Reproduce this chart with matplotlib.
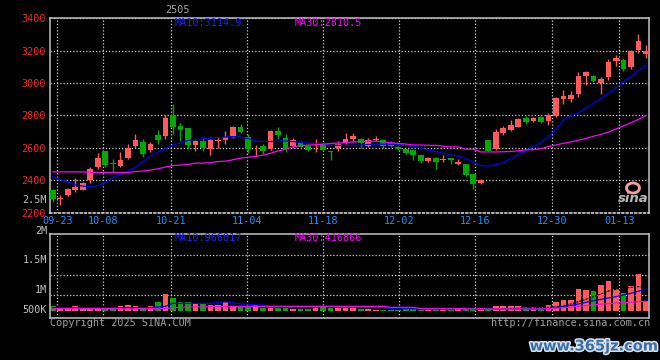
import numpy as np
import matplotlib
matplotlib.use('Agg')
import matplotlib.pyplot as plt
import matplotlib.patheffects as pe
from matplotlib.patches import Ellipse

# 日K数据
opens = np.array([2340, 2282, 2312, 2340, 2342, 2402, 2483, 2580, 2506, 2490,
                  2535, 2610, 2637, 2586, 2678, 2674, 2801, 2733, 2721, 2618,
                  2643, 2592, 2643, 2649, 2674, 2731, 2667, 2603, 2612, 2592,
                  2704, 2659, 2612, 2633, 2612, 2615, 2627, 2578, 2598, 2633,
                  2653, 2655, 2612, 2650, 2647, 2632, 2606, 2596, 2586, 2557,
                  2520, 2537, 2528, 2535, 2500, 2500, 2439, 2383, 2647, 2596,
                  2690, 2711, 2731, 2782, 2766, 2790, 2766, 2796, 2903, 2899,
                  2930, 3046, 3042, 3001, 3036, 3138, 3144, 3097, 3206, 3181])
highs = np.array([2347, 2310, 2352, 2412, 2388, 2483, 2566, 2582, 2530, 2572,
                  2623, 2688, 2653, 2635, 2709, 2803, 2868, 2751, 2725, 2648,
                  2667, 2652, 2670, 2704, 2735, 2745, 2684, 2617, 2627, 2708,
                  2729, 2688, 2664, 2640, 2625, 2653, 2635, 2582, 2643, 2690,
                  2690, 2660, 2660, 2674, 2655, 2643, 2612, 2600, 2590, 2562,
                  2545, 2545, 2555, 2537, 2531, 2503, 2441, 2408, 2650, 2719,
                  2735, 2772, 2786, 2797, 2790, 2797, 2813, 2912, 2960, 2954,
                  3066, 3072, 3050, 3036, 3148, 3175, 3155, 3205, 3304, 3236])
lows = np.array([2268, 2250, 2300, 2326, 2338, 2381, 2469, 2480, 2449, 2480,
                 2532, 2602, 2541, 2575, 2627, 2653, 2688, 2643, 2592, 2582,
                 2582, 2557, 2602, 2627, 2664, 2693, 2566, 2547, 2561, 2588,
                 2657, 2576, 2602, 2600, 2578, 2576, 2585, 2526, 2582, 2627,
                 2637, 2600, 2605, 2640, 2602, 2605, 2585, 2561, 2526, 2504,
                 2512, 2469, 2514, 2500, 2494, 2428, 2347, 2377, 2578, 2588,
                 2678, 2704, 2727, 2745, 2760, 2755, 2739, 2790, 2874, 2882,
                 2913, 2987, 3005, 2930, 3021, 3103, 3072, 3090, 3185, 3155])
closes = np.array([2285, 2288, 2347, 2361, 2383, 2469, 2537, 2496, 2502, 2524,
                   2602, 2647, 2561, 2627, 2649, 2782, 2729, 2709, 2618, 2643,
                   2598, 2647, 2649, 2670, 2731, 2698, 2592, 2607, 2582, 2704,
                   2678, 2596, 2649, 2608, 2588, 2620, 2588, 2574, 2627, 2653,
                   2674, 2628, 2649, 2654, 2612, 2610, 2596, 2570, 2557, 2520,
                   2537, 2510, 2533, 2527, 2514, 2432, 2377, 2402, 2582, 2698,
                   2721, 2739, 2781, 2760, 2782, 2760, 2801, 2909, 2923, 2925,
                   3046, 3066, 3011, 3028, 3128, 3158, 3089, 3199, 3261, 3199])
ma10 = np.array([2422, 2405, 2388, 2372, 2364, 2360, 2368, 2387, 2416, 2437,
                 2455, 2479, 2516, 2553, 2574, 2596, 2618, 2631, 2646, 2652,
                 2657, 2660, 2664, 2667, 2670, 2667, 2657, 2643, 2639, 2639,
                 2643, 2643, 2639, 2633, 2629, 2627, 2623, 2616, 2616, 2614,
                 2616, 2618, 2621, 2623, 2623, 2623, 2623, 2618, 2610, 2598,
                 2586, 2578, 2567, 2557, 2549, 2535, 2512, 2490, 2488, 2497,
                 2508, 2533, 2558, 2583, 2607, 2635, 2668, 2715, 2770, 2798,
                 2817, 2846, 2874, 2905, 2936, 2971, 3011, 3040, 3075, 3112])
ma30 = np.array([2452, 2452, 2452, 2452, 2452, 2448, 2448, 2448, 2448, 2448,
                 2448, 2454, 2457, 2463, 2471, 2482, 2491, 2494, 2497, 2506,
                 2506, 2509, 2516, 2518, 2527, 2537, 2543, 2548, 2555, 2567,
                 2581, 2592, 2606, 2614, 2617, 2620, 2623, 2627, 2630, 2633,
                 2637, 2639, 2641, 2641, 2638, 2632, 2627, 2624, 2618, 2618,
                 2616, 2616, 2610, 2606, 2606, 2592, 2592, 2575, 2575, 2575,
                 2576, 2578, 2582, 2588, 2589, 2595, 2608, 2618, 2628, 2637,
                 2647, 2658, 2672, 2684, 2697, 2717, 2736, 2756, 2776, 2800])

# 成交量 (千)
vol = np.array([215, 158, 158, 215, 115, 158, 158, 158, 158, 215,
                258, 215, 186, 215, 401, 731, 574, 401, 387, 330,
                301, 258, 258, 387, 215, 186, 186, 258, 143, 143,
                143, 143, 100, 86, 86, 115, 158, 115, 115, 143,
                143, 86, 86, 43, 43, 43, 43, 115, 72, 43,
                43, 43, 43, 43, 72, 100, 130, 130, 115, 215,
                215, 215, 215, 186, 158, 186, 258, 401, 473, 473,
                946, 903, 860, 1118, 1290, 946, 760, 1075, 1591, 430]) * 1000
vma10 = np.array([143, 143, 143, 143, 143, 143, 143, 143, 143, 143,
                  143, 143, 143, 143, 170, 200, 330, 330, 330, 330,
                  330, 330, 357, 400, 357, 301, 301, 258, 258, 200,
                  200, 200, 200, 200, 200, 200, 200, 200, 200, 158,
                  158, 158, 158, 158, 158, 100, 100, 100, 100, 100,
                  100, 100, 100, 100, 100, 100, 72, 72, 86, 86,
                  86, 86, 86, 86, 86, 86, 100, 140, 186, 240,
                  301, 370, 444, 500, 560, 616, 690, 760, 850, 950]) * 1000
vma30 = np.array([100, 100, 100, 100, 100, 100, 100, 100, 100, 100,
                  100, 100, 100, 100, 100, 115, 130, 158, 170, 175,
                  180, 185, 190, 195, 200, 200, 200, 200, 200, 200,
                  200, 200, 200, 200, 200, 200, 200, 200, 200, 200,
                  200, 200, 200, 200, 200, 158, 158, 158, 158, 100,
                  100, 100, 100, 100, 100, 100, 86, 86, 86, 86,
                  86, 86, 86, 86, 86, 86, 100, 120, 145, 170,
                  200, 230, 260, 290, 315, 340, 360, 380, 400, 417]) * 1000
vma5_tail = np.array([100, 110, 120, 130, 140, 150, 160, 180, 215, 301,
                      401, 502, 616, 731, 860, 932, 975, 1018, 1047, 1018]) * 1000

date_labels = ['09-23', '10-08', '10-21', '11-04', '11-18',
               '12-02', '12-16', '12-30', '01-13']
price_ticks = [2200, 2400, 2600, 2800, 3000, 3200, 3400]
vol_grid = [0.69e6, 1.55e6, 2.41e6]
vol_labels = ['500K', '1M', '1.5M', '2M']

RED = '#ff5a5a'
GREEN = '#00a800'
GRID = '#d0d0d0'
BOX = '#b4b4b4'
MONO = 'DejaVu Sans Mono'
FS = 7.3

n = len(closes)
x = np.arange(n)
cols = np.where(closes >= opens, RED, GREEN)
grid_x = [0.6, 6.72, 15.78, 25.9, 36.02, 46.14, 56.26, 66.44, 75.43]

W, H = 660, 360
def box(l, t, r, b):
    return [l / W, 1 - b / H, (r - l) / W, (b - t) / H]

fig = plt.figure(figsize=(6.6, 3.6), dpi=100, facecolor='black')
ax = fig.add_axes(box(50, 18.3, 649, 212.7))
axv = fig.add_axes(box(50, 234.3, 649, 318.3))

for a in (ax, axv):
    a.set_facecolor('black')
    a.set_xlim(-0.37, 79.4)
    a.set_xticks(grid_x)
    a.grid(True, color=GRID, ls=(0, (1, 1.6)), lw=0.9, zorder=0)
    a.set_axisbelow(True)
    for s in a.spines.values():
        s.set_color(BOX)
        s.set_linewidth(1.2)

# K线
ax.vlines(x, lows, highs, colors=cols, lw=1.0, zorder=2)
body_h = np.maximum(np.abs(closes - opens), 5)
ax.bar(x, body_h, width=0.76, bottom=np.minimum(opens, closes),
       color=cols, lw=0, zorder=3)
ax.plot(x, ma10, color='#0000ff', lw=0.9, zorder=4)
ax.plot(x, ma30, color='#ff00ff', lw=0.9, zorder=4)

ax.set_ylim(2200, 3400)
ax.set_yticks(price_ticks)
ax.set_yticklabels([str(p) for p in price_ticks], family=MONO, fontsize=FS)
ax.set_xticklabels(date_labels, family=MONO, fontsize=FS)
ax.tick_params(axis='y', colors='#ff2020', length=0, pad=3)
ax.tick_params(axis='x', colors='#1e90ff', length=0, pad=2.5)
ax.spines['bottom'].set_linestyle((0, (1, 1.6)))
ax.spines['bottom'].set_color(GRID)
ax.text(-0.005, 2278, '2.5M', transform=ax.get_yaxis_transform(), ha='right',
        va='center', color='#c0c0c0', family=MONO, fontsize=FS, clip_on=False)

# 成交量
axv.bar(x, vol, width=0.76, color=cols, lw=0, zorder=2)
axv.plot(x, vma10, color='#0000ff', lw=0.9, zorder=4)
axv.plot(x, vma30, color='#ff00ff', lw=0.9, zorder=4)
axv.plot(x[-len(vma5_tail):], vma5_tail, color='black', lw=0.8,
         ls=(0, (2, 1)), zorder=3)
axv.set_ylim(-0.314e6, 3.298e6)
axv.set_yticks(vol_grid)
axv.set_yticklabels([])
axv.set_xticklabels([])
axv.tick_params(length=0)
for lab, yv in zip(vol_labels, [0.043e6, 0.903e6, 2.193e6, 3.44e6]):
    axv.text(-0.005, yv, lab, transform=axv.get_yaxis_transform(), ha='right',
             va='center', color='#c0c0c0', family=MONO, fontsize=FS, clip_on=False)

# 图例文字
def ftext(px, py, s, **kw):
    fig.text(px / W, 1 - py / H, s, va='center', family=MONO, fontsize=FS, **kw)

ftext(175, 23, 'MA10:3114.9', color='#2020ff')
ftext(295, 23, 'MA30:2810.5', color='#ff00ff')
ftext(175, 238, 'MA10:966017', color='#2020ff')
ftext(295, 238, 'MA30:416866', color='#ff00ff')
ftext(165, 10, '2505', color='#a8a8a8')
ftext(50, 323, 'Copyright 2025 SINA.COM', color='#a0a0a0')
ftext(650, 323, 'http://finance.sina.com.cn', color='#a0a0a0', ha='right')

# sina 标志
fig.add_artist(Ellipse((633 / W, 1 - 188 / H), 13 / W, 10 / H, fill=False,
                       ec='#f4a0a0', lw=2, transform=fig.transFigure))
fig.text(633 / W, 1 - 199 / H, 'sina', ha='center', va='center', color='#b8b8b8',
         fontsize=9.5, weight='bold', style='italic')

# 水印
fig.text(594 / W, 1 - 346 / H, 'www.365jz.com', ha='center', va='center',
         fontsize=10.5, weight='bold', color='#3b6fa8',
         path_effects=[pe.withStroke(linewidth=2.2, foreground='#d8e2ee')])

fig.savefig('out.png', dpi=100, facecolor='black')
